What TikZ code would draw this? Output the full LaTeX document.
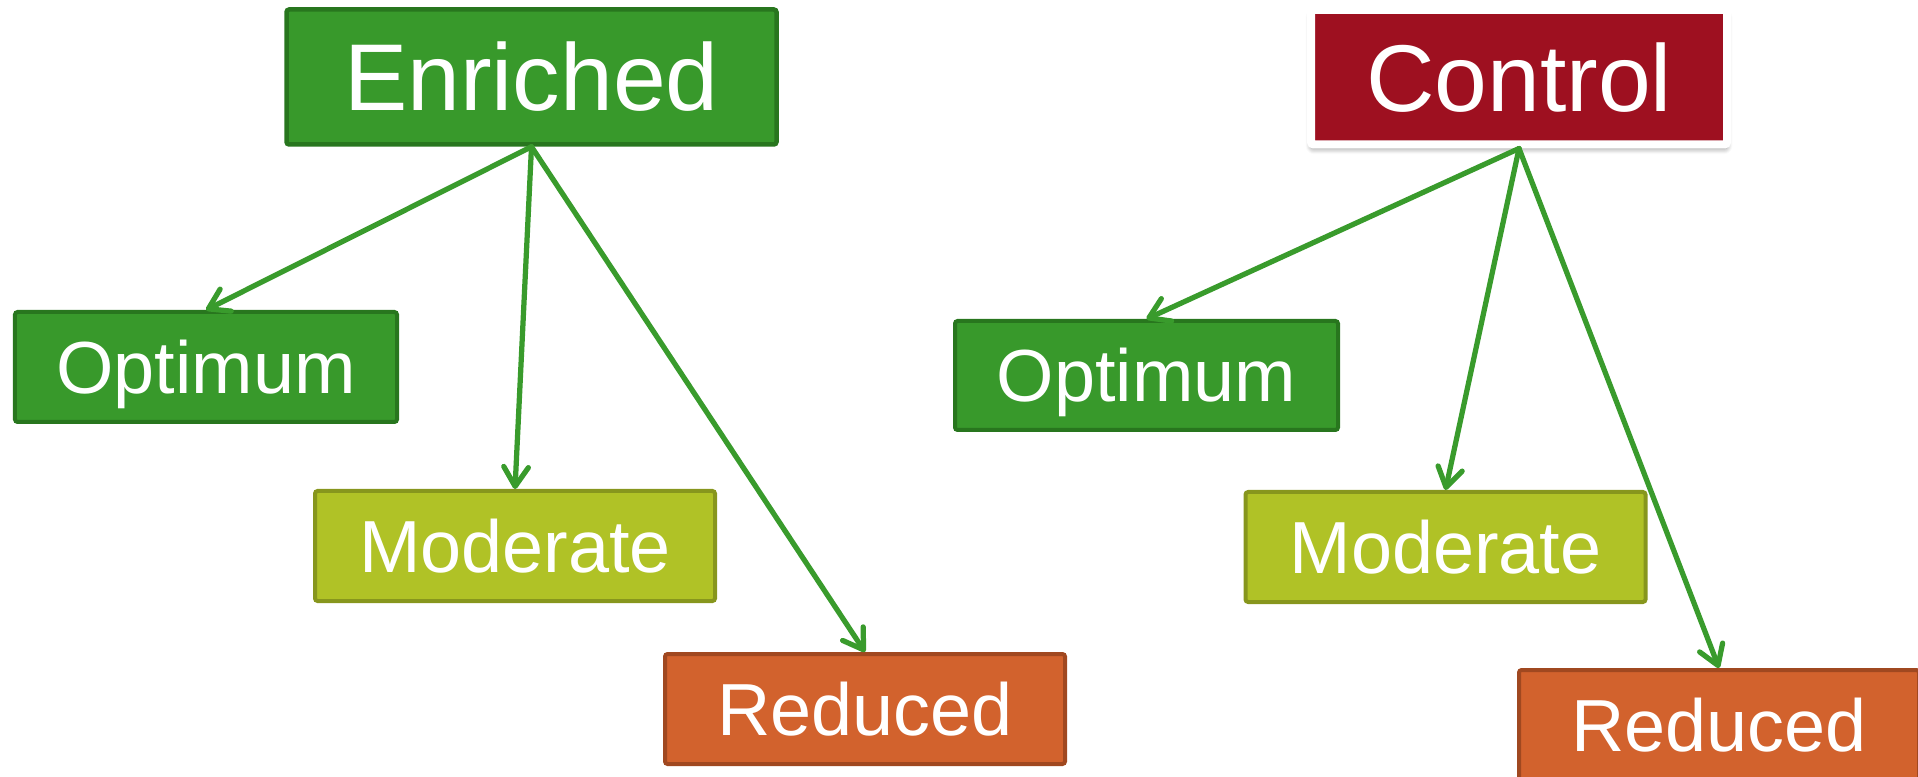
\documentclass[tikz,border=0pt]{standalone}
\usepackage{fontspec}
\setmainfont{Liberation Sans}
\usetikzlibrary{arrows.meta}
\usetikzlibrary{shadows.blur}
\definecolor{leafgreen}{RGB}{56,153,43}
\definecolor{leafgreendark}{RGB}{40,118,30}
\definecolor{ctrlred}{RGB}{158,16,32}
\definecolor{limefill}{RGB}{176,194,38}
\definecolor{limedark}{RGB}{135,150,29}
\definecolor{rustfill}{RGB}{210,98,45}
\definecolor{rustdark}{RGB}{160,72,32}
\definecolor{arrowgreen}{RGB}{57,155,44}
\tikzset{
  every picture/.style={
    >={Straight Barb[round, length=11pt, width=14pt]}
  },
  group box/.style={
    rectangle, rounded corners=1.5pt, line width=0.09cm,
    text=white, font=\fontsize{54}{60}\selectfont,
    text height=38.5pt, text depth=0pt,
    minimum height=2.7cm, inner sep=0pt
  },
  level box/.style={
    rectangle, rounded corners=1.5pt, line width=0.08cm,
    text=white, font=\fontsize{42}{48}\selectfont,
    text height=30pt, text depth=0pt,
    minimum width=8cm, minimum height=2.2cm, inner sep=0pt
  },
  optimum/.style={level box, fill=leafgreen, draw=leafgreendark},
  moderate/.style={level box, fill=limefill, draw=limedark},
  reduced/.style={level box, fill=rustfill, draw=rustdark},
  link/.style={
    ->, draw=arrowgreen, line width=0.105cm, line cap=round
  }
}
\begin{document}
\begin{tikzpicture}
  \useasboundingbox (0,0) rectangle (38.36,-15.54);
  % left tree
  \node[group box, fill=leafgreen, draw=leafgreendark, minimum width=9.8cm]
    (enr) at (10.63,-1.54) {Enriched};
  \node[optimum, minimum width=7.64cm] (optL) at (4.12,-7.34) {Optimum};
  \node[moderate] (modL) at (10.3,-10.92) {Moderate};
  \node[reduced] (redL) at (17.3,-14.18) {Reduced};
  \draw[link] (enr.south) -- (optL.north);
  \draw[link] (enr.south) -- (modL.north);
  \draw[link] (enr.south) -- (redL.north);
  % right tree
  \node[group box, fill=ctrlred, draw=white, line width=0.16cm,
    minimum width=8.32cm, minimum height=2.69cm,
    blur shadow={shadow xshift=0pt, shadow yshift=-2.5pt,
      shadow blur radius=3pt, shadow blur steps=6, shadow opacity=45}]
    (ctl) at (30.38,-1.545) {Control};
  \node[optimum, minimum width=7.66cm, minimum height=2.18cm]
    (optR) at (22.93,-7.51) {Optimum};
  \node[moderate] (modR) at (28.91,-10.94) {Moderate};
  \node[reduced] (redR) at (34.38,-14.5) {Reduced};
  \draw[link] (ctl.south) -- (optR.north);
  \draw[link] (ctl.south) -- (modR.north);
  \draw[link] (ctl.south) -- (redR.north);
\end{tikzpicture}
\end{document}
